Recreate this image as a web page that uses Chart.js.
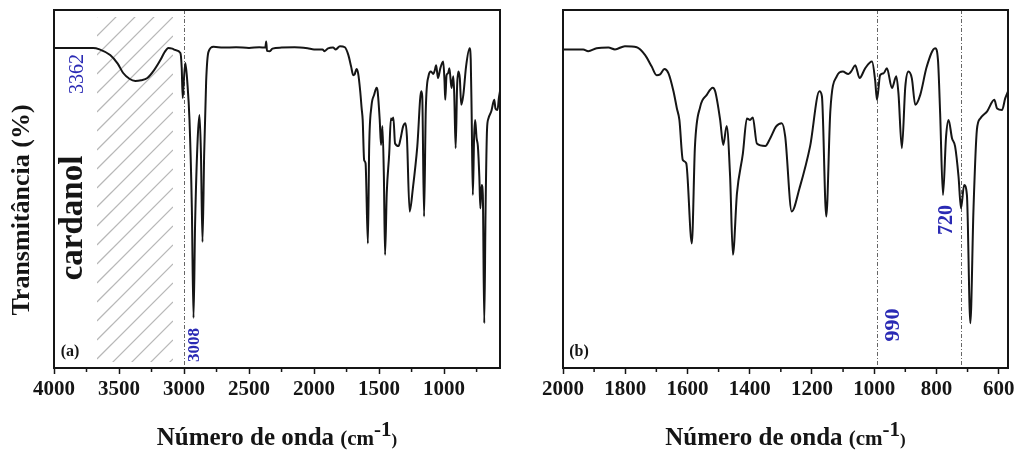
<!DOCTYPE html>
<html>
<head>
<meta charset="utf-8">
<script src="https://cdn.jsdelivr.net/npm/chart.js@4.4.1/dist/chart.umd.min.js"></script>
<style>
  html, body { margin: 0; padding: 0; background: #fff; }
  #wrap { position: relative; width: 1019px; height: 450px; }
  canvas { position: absolute; top: 0; }
  #chartA { left: 0; }
  #chartB { left: 510px; }
</style>
</head>
<body>
<div id="wrap">
  <canvas id="chartA" width="510" height="450"></canvas>
  <canvas id="chartB" width="509" height="450"></canvas>
</div>
<script>
// --- espectro FTIR do cardanol ---
// número de onda (cm-1), do maior para o menor
const waveNumbers = [
  4000, 3800, 3700, 3650, 3568, 3510, 3468, 3420, 3375, 3330, 3282, 3230, 3182, 3150, 3120, 3090,
  3066, 3028, 3018, 3010, 3002, 2990, 2975, 2958, 2940, 2927, 2915, 2895, 2881, 2870, 2858, 2845,
  2830, 2812, 2773, 2700, 2600, 2500, 2420, 2375, 2368, 2362, 2340, 2320, 2250, 2150, 2050, 2000,
  1935, 1919, 1892, 1854, 1833, 1801, 1763, 1736, 1715, 1699, 1688, 1674, 1661, 1645, 1634, 1626,
  1615, 1604, 1586, 1576, 1559, 1538, 1519, 1511, 1495, 1485, 1474, 1463, 1454, 1441, 1422, 1409,
  1399, 1390, 1377, 1350, 1334, 1315, 1297, 1286, 1265, 1240, 1206, 1176, 1168, 1154, 1141, 1120,
  1101, 1083, 1072, 1061, 1047, 1029, 1007, 997, 991, 981, 970, 959, 943, 929, 922, 911,
  900, 890, 879, 868, 852, 831, 804, 795, 788, 779, 769, 761, 750, 740, 729, 721,
  711, 702, 691, 681, 670, 659, 637, 614, 605, 589, 579, 570
];
// transmitância relativa (%)
const transmittance = [
  89.4, 89.4, 89.4, 89.0, 87.4, 85.0, 82.4, 80.8, 80.2, 80.4, 81.0, 83.2, 86.0, 88.2, 89.4, 89.2,
  88.8, 88.0, 84.0, 75.4, 80.0, 85.2, 80.0, 69.3, 45.0, 14.0, 40.0, 64.0, 70.7, 60.0, 35.2, 60.0,
  80.0, 88.3, 89.7, 89.5, 89.6, 89.4, 89.6, 89.5, 91.2, 88.6, 88.5, 89.2, 89.5, 89.6, 89.3, 89.0,
  89.0, 88.5, 89.3, 89.5, 89.0, 89.9, 89.6, 87.4, 84.2, 81.8, 82.0, 83.5, 82.3, 77.3, 72.5, 69.3,
  58.1, 57.2, 34.8, 61.9, 73.0, 76.3, 78.3, 77.3, 69.3, 62.3, 67.6, 53.5, 31.6, 48.8, 59.9, 69.7,
  69.3, 70.0, 62.7, 62.0, 64.2, 67.5, 68.4, 64.7, 43.7, 50.2, 61.9, 77.3, 75.9, 42.3, 71.7, 81.5,
  82.8, 82.1, 83.1, 84.6, 81.0, 83.7, 85.6, 80.4, 74.9, 81.8, 82.3, 83.7, 78.2, 81.5, 76.7, 61.4,
  78.6, 82.8, 80.9, 73.5, 76.3, 84.2, 89.3, 86.0, 71.0, 48.3, 64.7, 69.3, 64.2, 61.9, 53.5, 44.6,
  51.1, 48.3, 12.5, 44.1, 66.5, 69.7, 71.7, 74.9, 72.5, 72.1, 75.3, 77.3
];

const ticksA = [4000, 3500, 3000, 2500, 2000, 1500, 1000];
const minorTicksA = [3750, 3250, 2750, 2250, 1750, 1250, 750];
const ticksB = [2000, 1800, 1600, 1400, 1200, 1000, 800, 600];
const minorTicksB = [1900, 1700, 1500, 1300, 1100, 900, 700];

const markersA = [3000];
const markersB = [990, 720];
const hatchBand = [3670, 3085];
const peakLabelsA = ['3362', '3008'];
const peakLabelsB = ['990', '720'];

const axisTitleX = 'Número de onda ';
const axisTitleY = 'Transmitância (%)';
const sampleName = 'cardanol';

const SERIF = "'Liberation Serif', 'Times New Roman', serif";
const BLUE = '#2a2ab4';
const INK = '#151515';

const spectrum = waveNumbers.map((w, i) => ({ x: w, y: transmittance[i] }));

function drawText(ctx, str, x, y, font, color, rotated) {
    ctx.save();
    ctx.translate(x, y);
    if (rotated) ctx.rotate(-Math.PI / 2);
    ctx.font = font;
    ctx.fillStyle = color;
    ctx.textAlign = 'center';
    ctx.textBaseline = 'middle';
    ctx.fillText(str, 0, 0);
    ctx.restore();
}

// título do eixo x: "Número de onda (cm-1)" com expoente
function drawXTitle(ctx, cx, baseline) {
    const parts = [
        { t: axisTitleX, f: 'bold 25px ' + SERIF, dy: 0 },
        { t: '(cm', f: 'bold 21px ' + SERIF, dy: 0 },
        { t: '-1', f: 'bold 21px ' + SERIF, dy: -9 },
        { t: ')', f: 'bold 17px ' + SERIF, dy: 0 }
    ];
    ctx.save();
    let total = 0;
    parts.forEach(p => { ctx.font = p.f; p.w = ctx.measureText(p.t).width; total += p.w; });
    let x = cx - total / 2;
    ctx.fillStyle = INK;
    ctx.textBaseline = 'alphabetic';
    ctx.textAlign = 'left';
    parts.forEach(p => {
        ctx.font = p.f;
        ctx.fillText(p.t, x, baseline + p.dy);
        x += p.w;
    });
    ctx.restore();
}

function makeDecor(panel) {
    return {
        id: 'decor',
        beforeDatasetsDraw(chart) {
            const { ctx, chartArea: a, scales: { x } } = chart;
            ctx.save();
            // faixa hachurada (O-H)
            if (panel.hatch) {
                const x0 = x.getPixelForValue(panel.hatch[0]);
                const x1 = x.getPixelForValue(panel.hatch[1]);
                const y0 = a.top + 7, y1 = a.bottom - 6;
                const w = x1 - x0;
                ctx.save();
                ctx.beginPath();
                ctx.rect(x0, y0, w, y1 - y0);
                ctx.clip();
                ctx.strokeStyle = '#b8b8b8';
                ctx.lineWidth = 1.2;
                ctx.beginPath();
                for (let c = y0; c < y1 + w; c += 19) {
                    ctx.moveTo(x0, c);
                    ctx.lineTo(x1, c - w);
                }
                ctx.stroke();
                ctx.restore();
            }
            // linhas de referência traço-ponto
            ctx.strokeStyle = '#666';
            ctx.lineWidth = 1;
            ctx.setLineDash([4, 2, 1, 2]);
            panel.markers.forEach(v => {
                const px = Math.round(x.getPixelForValue(v)) + 0.5;
                ctx.beginPath();
                ctx.moveTo(px, a.top);
                ctx.lineTo(px, a.bottom);
                ctx.stroke();
            });
            ctx.restore();
        },
        afterDraw(chart) {
            const { ctx, chartArea: a, scales: { x } } = chart;
            ctx.save();
            ctx.strokeStyle = INK;
            ctx.lineWidth = 2;
            ctx.strokeRect(a.left, a.top, a.right - a.left, a.bottom - a.top);
            // marcas secundárias
            ctx.lineWidth = 1.5;
            ctx.beginPath();
            panel.minor.forEach(v => {
                const px = x.getPixelForValue(v);
                ctx.moveTo(px, a.bottom);
                ctx.lineTo(px, a.bottom + 4);
            });
            ctx.stroke();
            ctx.restore();

            drawText(ctx, panel.tag, a.left + 16, a.bottom - 16, 'bold 16px ' + SERIF, INK, false);
            drawXTitle(ctx, (a.left + a.right) / 2, 445);
            panel.notes(ctx, a, x);
        }
    };
}

const panels = [
    {
        canvas: 'chartA', min: 570, max: 4000, ticks: ticksA, minor: minorTicksA,
        markers: markersA, hatch: hatchBand, tag: '(a)', yWidth: 54, padRight: 10,
        notes(ctx, a, x) {
            drawText(ctx, axisTitleY, 22, 210, 'bold 26px ' + SERIF, INK, true);
            drawText(ctx, sampleName, 73, 218, 'bold 33px ' + SERIF, INK, true);
            drawText(ctx, peakLabelsA[0], a.left + 24, a.top + 64, '20px ' + SERIF, BLUE, true);
            drawText(ctx, peakLabelsA[1], x.getPixelForValue(markersA[0]) + 11, a.bottom - 23,
                'bold 17px ' + SERIF, BLUE, true);
        }
    },
    {
        canvas: 'chartB', min: 570, max: 2000, ticks: ticksB, minor: minorTicksB,
        markers: markersB, hatch: null, tag: '(b)', yWidth: 53, padRight: 11,
        notes(ctx, a, x) {
            drawText(ctx, peakLabelsB[0], x.getPixelForValue(markersB[0]) + 16, a.top + 315,
                'bold 22px ' + SERIF, BLUE, true);
            drawText(ctx, peakLabelsB[1], x.getPixelForValue(markersB[1]) - 14, a.top + 210,
                'bold 20px ' + SERIF, BLUE, true);
        }
    }
];

panels.forEach(p => {
    new Chart(document.getElementById(p.canvas), {
        type: 'line',
        data: {
            datasets: [{
                data: spectrum,
                borderColor: INK,
                borderWidth: 2,
                pointRadius: 0,
                fill: false,
                cubicInterpolationMode: 'monotone'
            }]
        },
        options: {
            responsive: false,
            animation: false,
            devicePixelRatio: 1,
            layout: { padding: { top: 10, right: p.padRight, left: 0, bottom: 0 } },
            plugins: { legend: { display: false }, tooltip: { enabled: false } },
            scales: {
                x: {
                    type: 'linear',
                    reverse: true,
                    min: p.min,
                    max: p.max,
                    afterBuildTicks: s => { s.ticks = p.ticks.map(v => ({ value: v })); },
                    afterFit: s => { s.height = 82; },
                    border: { display: false },
                    grid: { drawOnChartArea: false, drawTicks: true, tickLength: 6, tickColor: INK, tickWidth: 1.5 },
                    ticks: {
                        autoSkip: false, maxRotation: 0, padding: 3, color: INK,
                        font: { family: SERIF, size: 21, weight: 'bold' },
                        callback: v => String(v)
                    }
                },
                y: {
                    min: 0,
                    max: 100,
                    afterFit: s => { s.width = p.yWidth; },
                    border: { display: false },
                    grid: { display: false },
                    ticks: { display: false }
                }
            }
        },
        plugins: [makeDecor(p)]
    });
});
</script>
</body>
</html>
